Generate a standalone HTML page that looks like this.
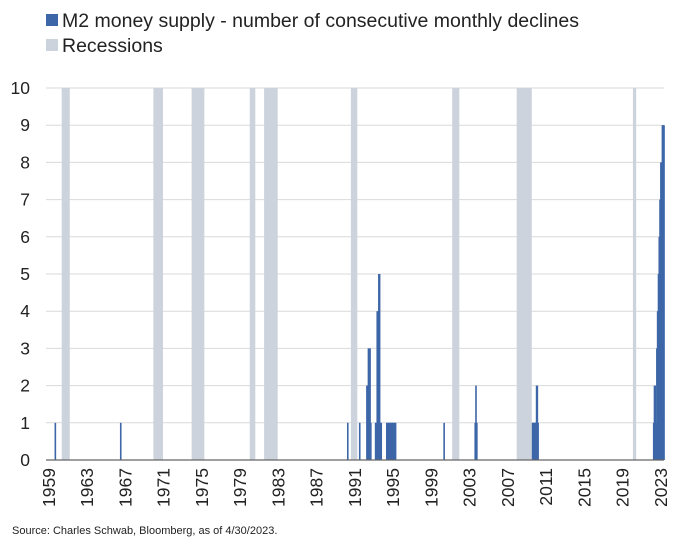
<!DOCTYPE html>
<html><head><meta charset="utf-8"><style>
body{margin:0;background:#fff;}
svg text{font-family:"Liberation Sans",sans-serif;}
</style></head><body>
<svg id="chart" width="680" height="544" xmlns="http://www.w3.org/2000/svg">
<rect width="680" height="544" fill="#fff"/>
<g>
<rect x="46" y="14" width="12" height="12" fill="#3d66a8"/>
<text x="62" y="27" font-size="19.5" fill="#222">M2 money supply - number of consecutive monthly declines</text>
<rect x="46" y="39" width="12" height="12" fill="#ccd3dc"/>
<text x="62" y="52" font-size="19.5" fill="#222">Recessions</text>
</g>
<g id="grid"></g><g id="rec"></g><g id="bars"></g><g id="axes"></g>
<text x="12" y="534" font-size="11" fill="#222">Source: Charles Schwab, Bloomberg, as of 4/30/2023.</text>
</svg>
<script>
const yTicks=[0,1,2,3,4,5,6,7,8,9,10];
const xTicks=[1959,1963,1967,1971,1975,1979,1983,1987,1991,1995,1999,2003,2007,2011,2015,2019,2023];
const recStart=[1960.33,1969.92,1973.92,1980.0,1981.5,1990.58,2001.17,2007.92,2020.08];
const recEnd=[1961.17,1970.92,1975.25,1980.58,1982.92,1991.25,2001.92,2009.5,2020.42];
const months=[1959.58,1966.42,1990.17,1991.42,
1992.17,1992.25,1992.33,1992.42,1992.5,1992.58,
1993.08,1993.17,1993.25,1993.33,1993.42,1993.5,1993.58,1993.67,
1994.25,1994.33,1994.42,1994.5,1994.58,1994.67,1994.75,1994.83,1994.92,1995.0,1995.08,1995.17,
2000.25,2003.5,2003.58,2003.67,
2009.5,2009.58,2009.67,2009.75,2009.83,2009.92,2010.0,2010.08,
2022.17,2022.25,2022.33,2022.42,2022.5,2022.58,2022.67,2022.75,2022.83,2022.92,2023.0,2023.08,2023.17,2023.25];
const values=[1,1,1,1,
2,2,3,3,3,1,
1,1,4,4,5,5,1,1,
1,1,1,1,1,1,1,1,1,1,1,1,
1,1,2,1,
1,1,1,1,1,2,2,1,
1,2,2,1,3,4,5,6,7,8,8,9,9,9];
const NS="http://www.w3.org/2000/svg";
const X0=49,X1=664,Y0=460,Y1=88;
const xs=v=>X0+(v-1959)*(X1-X0)/(2023.33-1959);
const ys=v=>Y0-(v/10)*(Y0-Y1);
function mk(t,a,p){const e=document.createElementNS(NS,t);for(const k in a)e.setAttribute(k,a[k]);p.appendChild(e);return e;}
const G=document.getElementById('grid'),R=document.getElementById('rec'),B=document.getElementById('bars'),A=document.getElementById('axes');
yTicks.forEach(t=>{
 if(t>0){const l=mk('line',{x1:46,x2:X1,y1:ys(t),y2:ys(t),stroke:'#d9d9d9','stroke-width':1},G);
 
 }
 const tx=mk('text',{x:30,y:ys(t)+6,'font-size':17.5,'text-anchor':'end',fill:'#222'},A);tx.textContent=t;
 
 
});
recStart.forEach((s,i)=>{
 const r=mk('rect',{x:xs(s),y:Y1,width:Math.max(2,xs(recEnd[i])-xs(s)),height:Y0-Y1,fill:'#ccd3dc'},R);
 
 
});
const mw=(X1-X0)/(2023.33-1959)/12;
months.forEach((m,i)=>{
 const w=Math.max(1.6,mw+0.3);
 const r=mk('rect',{x:xs(m),y:ys(values[i]),width:w,height:Y0-ys(values[i]),fill:'#3d66a8'},B);
 
 
});
const ax=mk('line',{x1:46,x2:X1,y1:Y0,y2:Y0,stroke:'#666','stroke-width':1.3},A);


xTicks.forEach(t=>{
 const x=xs(t);
 const tx=mk('text',{x:0,y:0,'font-size':17.5,'text-anchor':'end',fill:'#222',transform:`translate(${x+6},${Y0+8}) rotate(-90)`},A);
 tx.textContent=t;
 
 
});
</script>
</body></html>
